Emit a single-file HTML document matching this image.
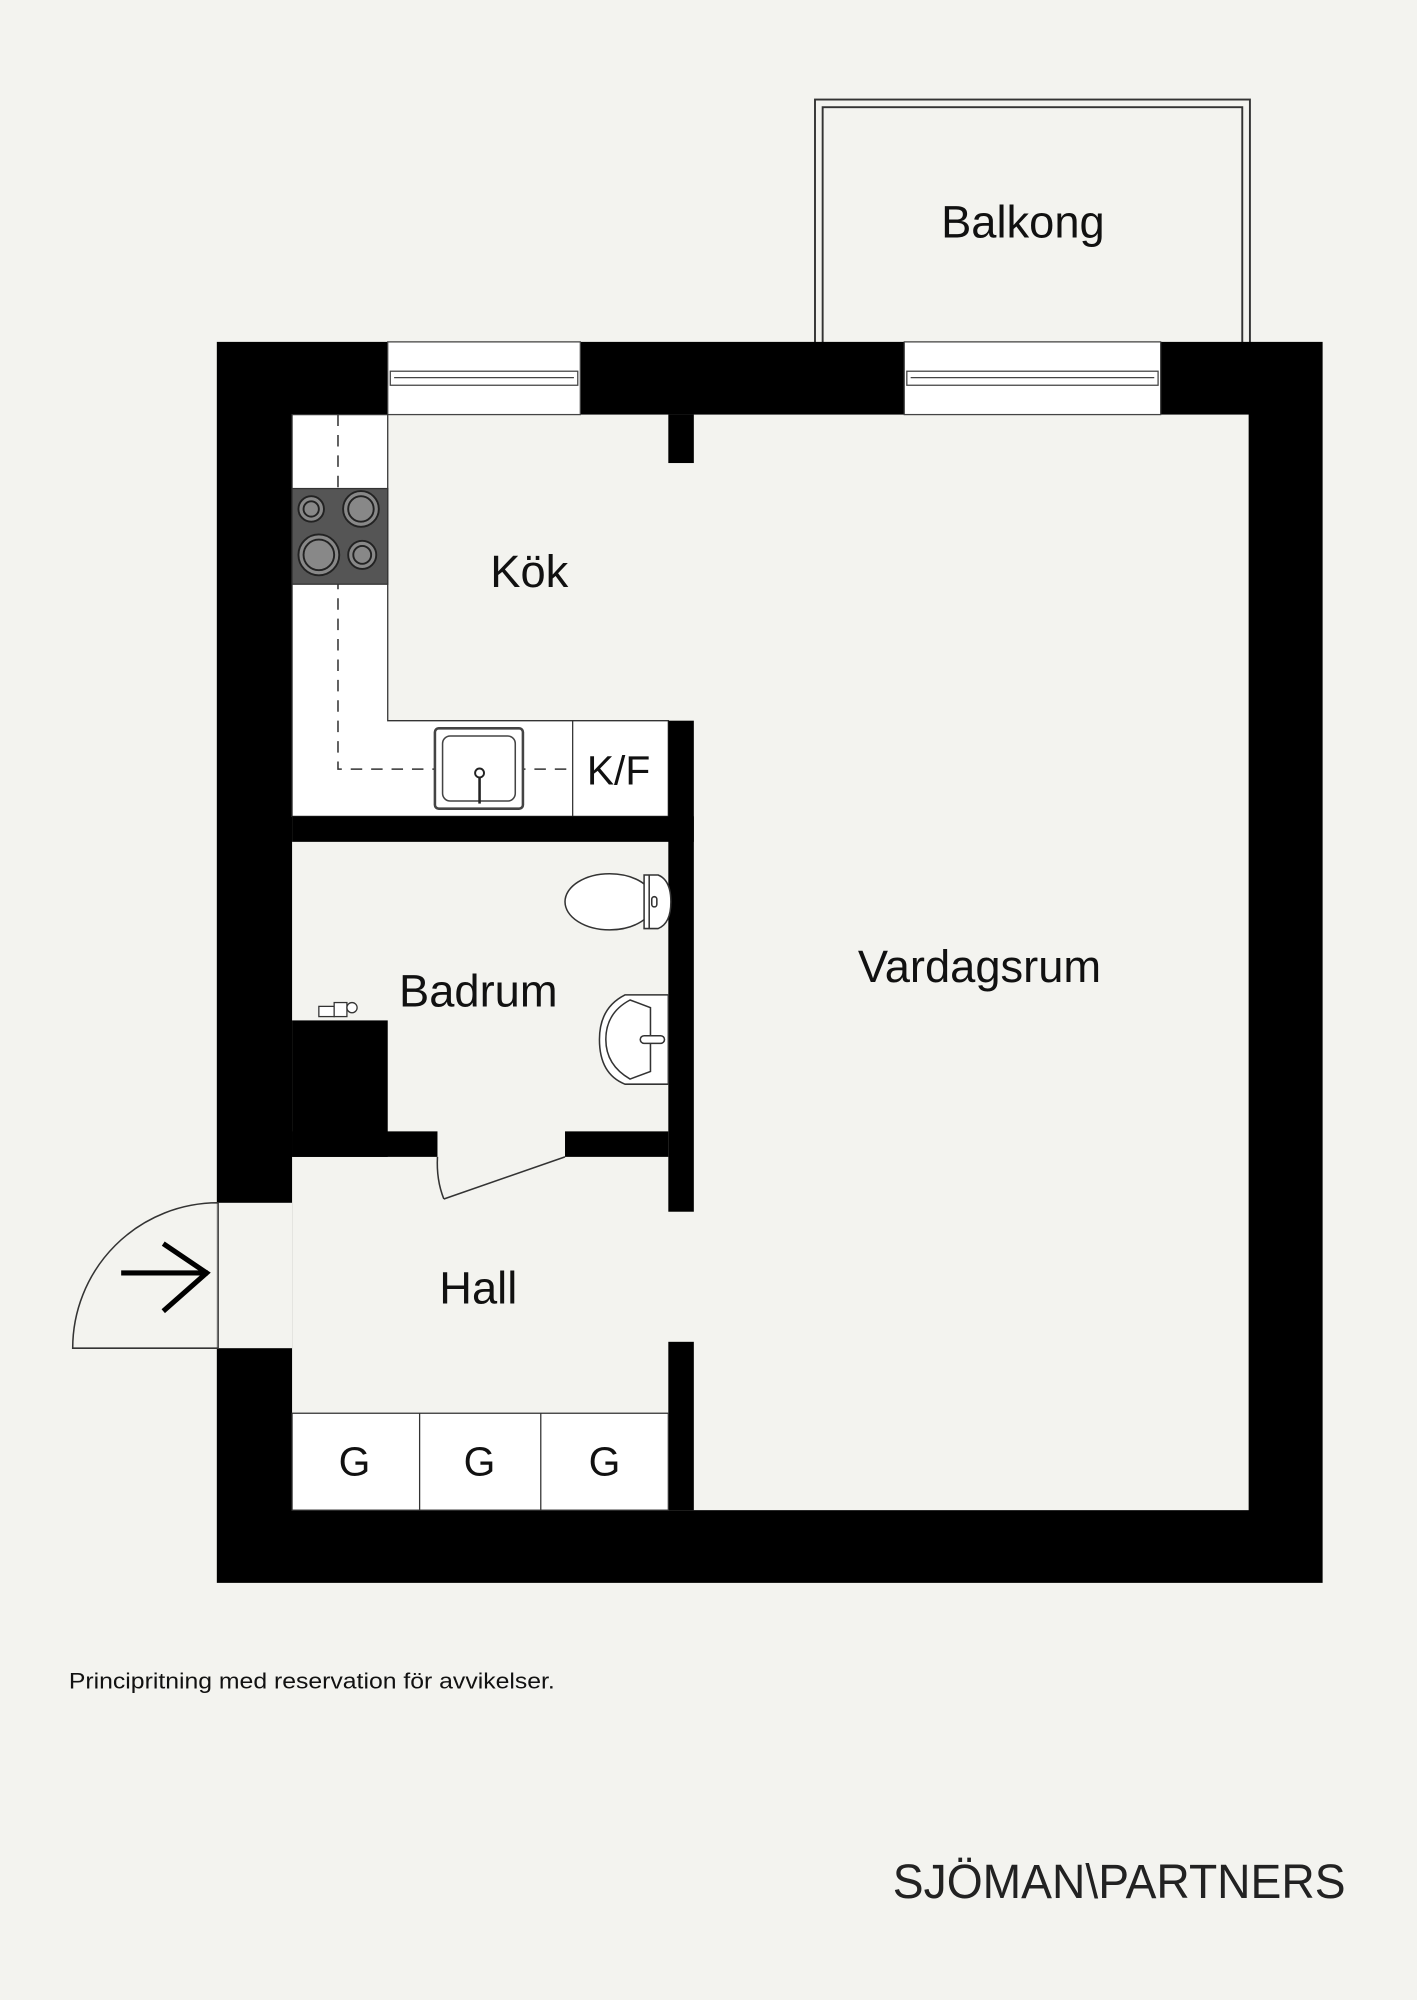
<!DOCTYPE html>
<html><head><meta charset="utf-8"><style>
html,body{margin:0;padding:0;background:#f3f3ef;}
svg{display:block;}
text{font-family:"Liberation Sans",sans-serif;fill:#111;}
</style></head><body>
<svg width="1417" height="2000" viewBox="0 0 1111 1568" xmlns="http://www.w3.org/2000/svg">
<rect x="0" y="0" width="1111" height="1568" fill="#f3f3ef"/>
<!-- balcony -->
<rect x="639" y="78" width="341" height="192" fill="none" stroke="#333" stroke-width="1.5"/>
<rect x="645" y="84" width="329" height="186" fill="none" stroke="#333" stroke-width="1.5"/>
<!-- outer walls -->
<rect x="170" y="268" width="867" height="973" fill="#000"/>
<rect x="229" y="325" width="750" height="859" fill="#f3f3ef"/>
<!-- windows -->
<g stroke="#444" stroke-width="1">
<rect x="304" y="268" width="151" height="57" fill="#fff"/>
<rect x="306" y="291" width="147" height="11" fill="#fff"/>
<line x1="309" y1="296" x2="450" y2="296"/>
<rect x="709" y="268" width="201" height="57" fill="#fff"/>
<rect x="711" y="291" width="197" height="11" fill="#fff"/>
<line x1="714" y1="296" x2="905" y2="296"/>
</g>
<!-- stub -->
<rect x="524" y="325" width="20" height="38" fill="#000"/>
<!-- kitchen counters -->
<path d="M229 325 H304 V565 H524 V640 H229 Z" fill="#fff" stroke="#333" stroke-width="1"/>
<line x1="449" y1="565" x2="449" y2="640" stroke="#333"/>
<path d="M265 325 V603 H449" fill="none" stroke="#333" stroke-width="1.2" stroke-dasharray="9,7"/>
<rect x="229" y="383" width="75" height="75" fill="#555" stroke="#333"/>
<g stroke="#222" stroke-width="1.5" fill="#888">
<circle cx="244" cy="399" r="10"/><circle cx="244" cy="399" r="6"/>
<circle cx="283" cy="399" r="14"/><circle cx="283" cy="399" r="10"/>
<circle cx="250" cy="435" r="16"/><circle cx="250" cy="435" r="12"/>
<circle cx="284" cy="435" r="11"/><circle cx="284" cy="435" r="7"/>
</g>
<rect x="341" y="571" width="69" height="63" rx="3" fill="#fff" stroke="#444" stroke-width="2"/>
<rect x="347" y="577" width="57" height="51" rx="6" fill="#fff" stroke="#444" stroke-width="1.2"/>
<circle cx="376" cy="606" r="3.5" fill="none" stroke="#222" stroke-width="1.5"/>
<line x1="376" y1="609" x2="376" y2="630" stroke="#222" stroke-width="2"/>
<!-- interior walls -->
<rect x="524" y="565" width="20" height="385" fill="#000"/>
<rect x="229" y="640" width="315" height="20" fill="#000"/>
<rect x="229" y="800" width="75" height="107" fill="#000"/>
<rect x="229" y="887" width="114" height="20" fill="#000"/>
<rect x="443" y="887" width="81" height="20" fill="#000"/>
<rect x="524" y="1052" width="20" height="132" fill="#000"/>
<!-- bath door -->
<path d="M443 907 L348 940" stroke="#333" stroke-width="1.2" fill="none"/>
<path d="M343 907 Q342 925 348 940" stroke="#333" stroke-width="1.2" fill="none"/>
<!-- faucet -->
<g stroke="#333" stroke-width="1" fill="#fff">
<rect x="250" y="789" width="12" height="8"/><rect x="262" y="786" width="10" height="11"/><circle cx="276" cy="790" r="4"/>
</g>
<!-- toilet -->
<g stroke="#333" stroke-width="1.2" fill="#fff">
<ellipse cx="478" cy="707" rx="35" ry="22"/>
<path d="M505 686 H516 Q526 690 526 707 Q526 724 516 728 H505 Z"/>
<line x1="509" y1="686" x2="509" y2="728"/>
<rect x="511" y="703" width="4" height="8" rx="2"/>
<!-- sink -->
<path d="M524 780 H490 Q470 790 470 815 Q470 842 490 850 H524 Z"/>
<path d="M494 784 L510 790 V840 L494 846 Q475 835 475 815 Q475 794 494 784 Z"/>
<rect x="502" y="812" width="19" height="6" rx="3"/>
</g>
<!-- entrance door -->
<rect x="170" y="943" width="59" height="114" fill="#f3f3ef"/>
<path d="M171 943 V1057 H57 A114 114 0 0 1 171 943" fill="none" stroke="#333" stroke-width="1.2"/>
<line x1="95" y1="998" x2="163" y2="998" stroke="#000" stroke-width="4"/>
<polyline points="128,975 162,998 128,1028" fill="none" stroke="#000" stroke-width="4"/>
<!-- wardrobes -->
<rect x="229" y="1108" width="295" height="76" fill="#fff" stroke="#333" stroke-width="1"/>
<line x1="329" y1="1108" x2="329" y2="1184" stroke="#333"/>
<line x1="424" y1="1108" x2="424" y2="1184" stroke="#333"/>
<!-- labels -->
<g font-size="35.5" text-anchor="middle">
<text x="802" y="186">Balkong</text>
<text x="415" y="460">Kök</text>
<text x="375" y="789">Badrum</text>
<text x="768" y="770">Vardagsrum</text>
<text x="375" y="1022">Hall</text>
</g>
<g font-size="32" text-anchor="middle">
<text x="485" y="615">K/F</text>
<text x="278" y="1157">G</text>
<text x="376" y="1157">G</text>
<text x="474" y="1157">G</text>
</g>
<text x="54" y="1324" font-size="17.5" textLength="381" lengthAdjust="spacingAndGlyphs">Principritning med reservation för avvikelser.</text>
<text x="700" y="1488" font-size="38" textLength="355" lengthAdjust="spacingAndGlyphs" style="fill:#222">SJÖMAN\PARTNERS</text>
</svg>
</body></html>
